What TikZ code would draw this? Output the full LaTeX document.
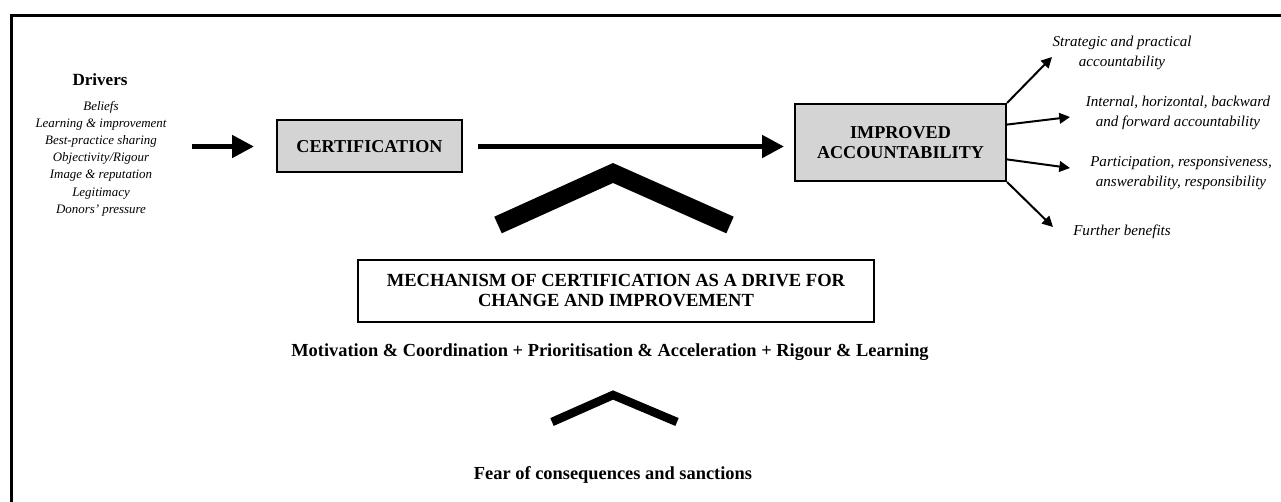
\documentclass[tikz,border=0pt]{standalone}
\usepackage{fontspec}
\setmainfont{Liberation Serif}
\usetikzlibrary{arrows.meta,calc}
\definecolor{boxgray}{RGB}{212,212,212}
\begin{document}
\begin{tikzpicture}[x=0.75pt,y=-0.75pt,
  frameline/.style={line width=2.25pt, line join=miter},
  graybox/.style={draw, line width=1.5pt, fill=boxgray, inner sep=0pt, align=center,
    font=\bfseries\fontsize{13.6}{15}\selectfont},
  whitebox/.style={draw, line width=1.5pt, fill=white, inner sep=0pt, align=center,
    font=\bfseries\fontsize{13.9}{15}\selectfont},
  boldtext/.style={inner sep=0pt, align=center, font=\bfseries\fontsize{13.8}{15}\selectfont},
  drivertext/.style={inner sep=0pt, align=center, font=\itshape\fontsize{9.7}{12.9}\selectfont},
  outcome/.style={inner sep=0pt, align=center, font=\itshape\fontsize{11.3}{15}\selectfont},
  bigarrow/.style={line width=3.75pt, -{Triangle[length=16.5pt,width=16.5pt]}},
  thinarrow/.style={line width=1.5pt, -{Triangle[length=8pt,width=8pt]}},
  chevron/.style={line join=miter, line cap=butt}
]
\useasboundingbox (0,0) rectangle (1281,502);

% outer frame (top and left edges)
\draw[frameline] (11.5,502) -- (11.5,15.5) -- (1281,15.5);

% drivers
\node[inner sep=0pt, font=\bfseries\fontsize{12.8}{14}\selectfont] (drv) at (100,80) {Drivers};
\node[drivertext] (drvlist) at (101,158.5) {Beliefs\\Learning \& improvement\\Best-practice sharing\\
  Objectivity/Rigour\\Image \& reputation\\Legitimacy\\Donors’ pressure};

% main boxes
\node[graybox, minimum width=138.75pt, minimum height=39pt] (cert) at (369.5,146.5) {CERTIFICATION};
\node[graybox, minimum width=158.25pt, minimum height=57.75pt] (imp) at (900.5,142.5)
  {IMPROVED\\ACCOUNTABILITY};

% main flow arrows
\coordinate (dstart) at (192,146.5);
\draw[bigarrow, shorten >=16.5pt] (dstart) -- (cert.west);
\draw[bigarrow, shorten <=11.25pt, shorten >=7.5pt] (cert.east) -- (cert.east -| imp.west);

% outcomes
\node[outcome] (o1) at (1122,53) {Strategic and practical\\accountability};
\node[outcome] (o2) at (1178,112.5) {Internal, horizontal, backward\\and forward accountability};
\node[outcome] (o3) at (1181,173) {Participation, responsiveness,\\answerability, responsibility};
\node[outcome] (o4) at (1122,232) {Further benefits};

\coordinate (e1) at (1052,57);
\coordinate (e2) at (1070,117);
\coordinate (e3) at (1070,168);
\coordinate (e4) at (1053,227);
\draw[thinarrow] (imp.north east) -- (e1);
\draw[thinarrow] ($(imp.north east)!0.273!(imp.south east)$) -- (e2);
\draw[thinarrow] ($(imp.north east)!0.714!(imp.south east)$) -- (e3);
\draw[thinarrow] (imp.south east) -- (e4);

% mechanism
\draw[chevron, line width=13.65pt] (498,225) -- (613,173) -- (730,225);
\node[whitebox, minimum width=387pt, minimum height=46.5pt] (mech) at (616,291)
  {MECHANISM OF CERTIFICATION AS A DRIVE FOR\\CHANGE AND IMPROVEMENT};
\node[boldtext] (motiv) at (610,352)
  {Motivation \& Coordination + Prioritisation \& Acceleration + Rigour \& Learning};
\draw[chevron, line width=6.4pt] (552,422) -- (613,395) -- (677,422);
\node[boldtext] (fear) at (613,475) {Fear of consequences and sanctions};
\end{tikzpicture}
\end{document}
